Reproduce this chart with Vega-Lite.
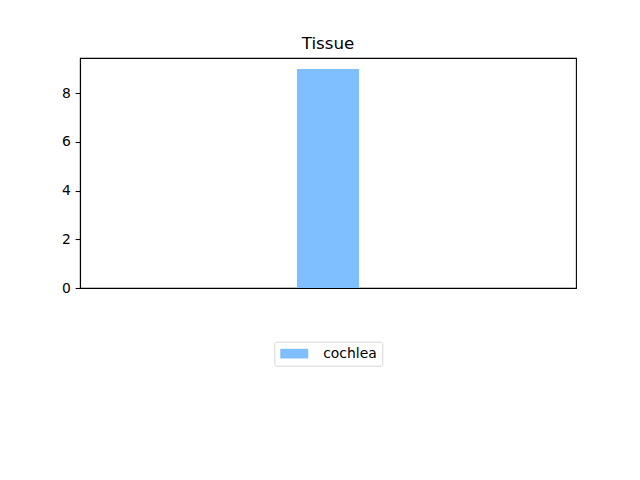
{
  "$schema": "https://vega.github.io/schema/vega-lite/v6.json",
  "width": 496,
  "height": 230,
  "autosize": {"type": "none"},
  "padding": {"left": 80, "top": 58, "right": 64, "bottom": 192},
  "title": {
    "text": "Tissue",
    "font": "DejaVu Sans",
    "fontSize": 16.7,
    "fontWeight": "normal",
    "color": "black",
    "anchor": "middle",
    "baseline": "bottom",
    "offset": -12
  },
  "data": {"values": [{"tissue": "cochlea", "count": 9}]},
  "mark": {"type": "bar", "color": "#80bfff"},
  "encoding": {
    "x": {
      "field": "tissue",
      "type": "nominal",
      "axis": null,
      "scale": {"paddingInner": 0.875, "paddingOuter": 0.4375}
    },
    "y": {
      "field": "count",
      "type": "quantitative",
      "scale": {"domain": [0, 9.45], "nice": false},
      "axis": {
        "title": null,
        "values": [0, 2, 4, 6, 8],
        "grid": false,
        "domainColor": "black",
        "domainWidth": 1.1,
        "tickColor": "black",
        "tickWidth": 1.1,
        "tickSize": 4.86,
        "labelPadding": 4.86,
        "labelFont": "DejaVu Sans",
        "labelFontSize": 13.9,
        "labelColor": "black"
      }
    },
    "color": {
      "field": "tissue",
      "type": "nominal",
      "scale": {"range": ["#80bfff"]},
      "legend": {
        "title": null,
        "orient": "none",
        "legendX": 194.3,
        "legendY": 283.7,
        "strokeColor": "#d6d6d6",
        "fillColor": "white",
        "cornerRadius": 2,
        "padding": 5,
        "symbolType": "M-2.8,-0.97H2.8V0.97H-2.8Z",
        "symbolSize": 100,
        "symbolStrokeWidth": 0,
        "symbolOpacity": 1,
        "symbolOffset": 8,
        "labelOffset": 22,
        "labelFont": "DejaVu Sans",
        "labelFontSize": 13.9,
        "labelColor": "black"
      }
    }
  },
  "config": {
    "view": {"stroke": "black", "strokeWidth": 1.1}
  }
}
